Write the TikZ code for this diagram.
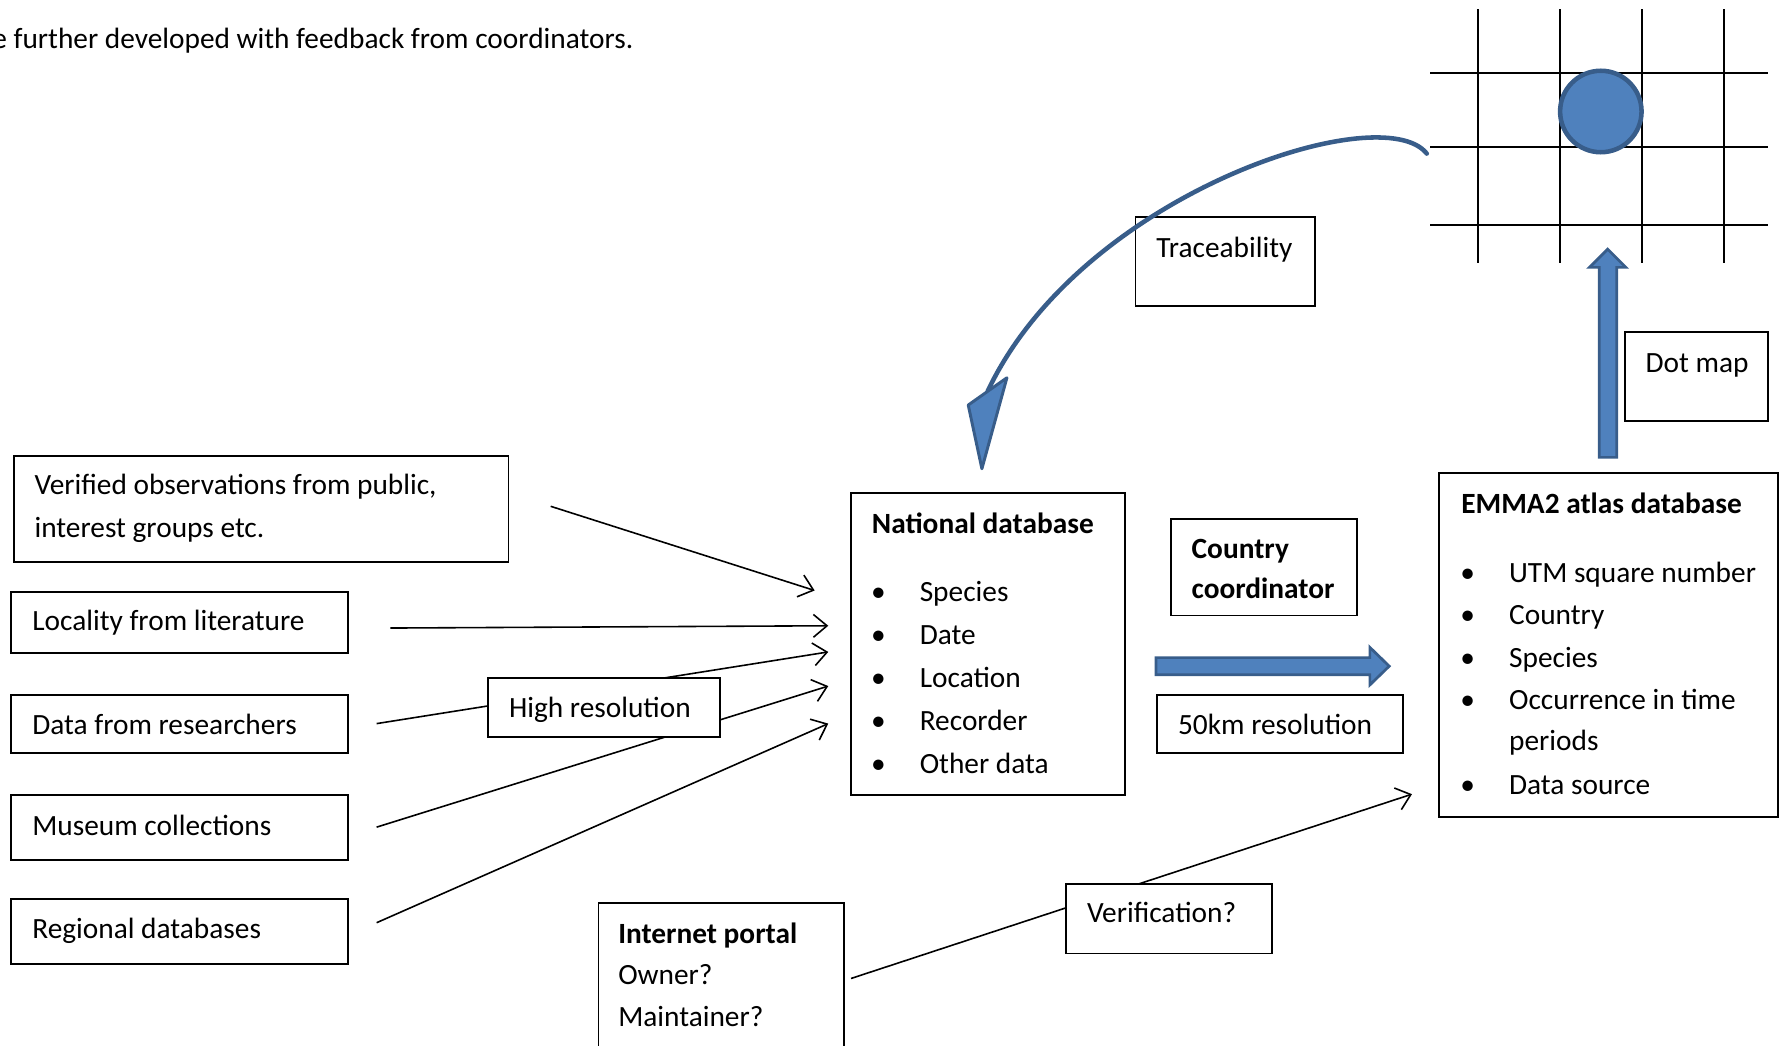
\documentclass[tikz,border=0pt]{standalone}
\usepackage{fontspec}
\setmainfont{Carlito}
\usetikzlibrary{arrows.meta,fit}

\definecolor{dotblue}{RGB}{79,129,189}
\definecolor{dotedge}{RGB}{56,93,138}

\tikzset{
  box/.style={draw, fill=white, line width=0.8pt, inner sep=0pt},
  txt/.style={anchor=base west, inner sep=0pt, font=\fontsize{12.9}{18.75}\selectfont},
  feed/.style={line width=0.7pt, -{Straight Barb[length=6pt,width=10pt,line width=0.7pt]}},
  gridline/.style={line width=0.9pt},
  blockarrow/.style={fill=dotblue, draw=dotedge, line width=1.2pt, line join=miter},
}

\begin{document}
\begin{tikzpicture}[x=0.5pt,y=0.5pt,yscale=-1,xscale=1]
	\useasboundingbox (0,0) rectangle (1568,919);
	\node[txt, anchor=base east] (intro) at (557,43) {e further developed with feedback from coordinators.};
	% grid of the dot map
	\foreach \gx in {1299,1371,1443,1515} \draw[gridline] (\gx,8) -- (\gx,231);
	\foreach \gy in {64,129,198} \draw[gridline] (1257,\gy) -- (1554,\gy);
	\node[circle, fill=dotblue, draw=dotedge, line width=2pt, minimum size=35.8pt, inner sep=0pt] (dot) at (1407,98) {};
	% free ends of the feed lines
	\coordinate (verS) at (484,445);  \coordinate (verE) at (716,519);
	\coordinate (litS) at (343,552);  \coordinate (litE) at (728,550);
	\coordinate (resS) at (331,636);  \coordinate (resE) at (728,573);
	\coordinate (musS) at (331,727);  \coordinate (musE) at (728,603);
	\coordinate (regS) at (331,811);  \coordinate (regE) at (728,636);
	\coordinate (porS) at (748,860);  \coordinate (porE) at (1241,698);
	\draw[feed] (verS) -- (verE);
	\draw[feed] (litS) -- (litE);
	\draw[feed] (resS) -- (resE);
	\draw[feed] (musS) -- (musE);
	\draw[feed] (regS) -- (regE);
	\draw[feed] (porS) -- (porE);
	% boxes
	\node[box, fit={(12,401) (447,494)}] (verified) {};
	\node[box, fit={(10,520) (306,574)}] (literature) {};
	\node[box, fit={(10,611) (306,662)}] (researchers) {};
	\node[box, fit={(10,699) (306,756)}] (museum) {};
	\node[box, fit={(10,790) (306,847)}] (regional) {};
	\node[box, fit={(429,596) (633,648)}] (highres) {};
	\node[box, fit={(748,433) (989,699)}] (national) {};
	\node[box, fit={(1029,456) (1193,541)}] (coordinator) {};
	\node[box, fit={(1017,611) (1233,662)}] (lowres) {};
	\node[box, fit={(1265,416) (1563,718)}] (emma) {};
	\node[box, fit={(1428,292) (1554,370)}] (dotmap) {};
	\node[box, fit={(998,191) (1156,269)}] (trace) {};
	\node[box, fit={(526,794) (742,935)}] (portal) {};
	\node[box, fit={(937,777) (1118,838)}] (verif) {};
	% texts
	\node[txt] (verifiedA) at (30,435) {Verified observations from public,};
	\node[txt] (verifiedB) at (30,472) {interest groups etc.};
	\node[txt] (literatureT) at (28,554) {Locality from literature};
	\node[txt] (researchersT) at (28,646) {Data from researchers};
	\node[txt] (museumT) at (28,734) {Museum collections};
	\node[txt] (regionalT) at (28,825) {Regional databases};
	\node[txt] (highresT) at (447,631) {High resolution};
	\node[txt, font=\fontsize{12.9}{18.75}\selectfont\bfseries] (nationalT) at (766,469) {National database};
	\foreach \entry [count=\i] in {Species,Date,Location,Recorder,Other data}{
		\node[txt, anchor=base] (nationalB\i) at (772,{491.25+37.75*\i}) {\textbullet};
		\node[txt] (nationalI\i) at (808,{491.25+37.75*\i}) {\entry};
	}
	\node[txt, font=\fontsize{12.9}{18.75}\selectfont\bfseries] (coordinatorA) at (1047,491) {Country};
	\node[txt, font=\fontsize{12.9}{18.75}\selectfont\bfseries] (coordinatorB) at (1047,526) {coordinator};
	\node[txt] (lowresT) at (1035,646) {50km resolution};
	\node[txt, font=\fontsize{12.9}{18.75}\selectfont\bfseries] (emmaT) at (1284,451) {EMMA2 atlas database};
	\node[txt, anchor=base] (emmaB1) at (1290,512) {\textbullet};
	\node[txt] (emmaI1) at (1326,512) {UTM square number};
	\node[txt, anchor=base] (emmaB2) at (1290,549) {\textbullet};
	\node[txt] (emmaI2) at (1326,549) {Country};
	\node[txt, anchor=base] (emmaB3) at (1290,587) {\textbullet};
	\node[txt] (emmaI3) at (1326,587) {Species};
	\node[txt, anchor=base] (emmaB4) at (1290,624) {\textbullet};
	\node[txt] (emmaI4) at (1326,624) {Occurrence in time};
	\node[txt] (emmaI4b) at (1326,660) {periods};
	\node[txt, anchor=base] (emmaB5) at (1290,698) {\textbullet};
	\node[txt] (emmaI5) at (1326,698) {Data source};
	\node[txt] (dotmapT) at (1446,327) {Dot map};
	\node[txt] (traceT) at (1016,226) {Traceability};
	\node[txt, font=\fontsize{12.9}{18.75}\selectfont\bfseries] (portalA) at (543,829) {Internet portal};
	\node[txt] (portalB) at (543,865) {Owner?};
	\node[txt] (portalC) at (543,902) {Maintainer?};
	\node[txt] (verifT) at (955,811) {Verification?};
	% block arrows
	\draw[blockarrow] (1016,578) -- (1204,578) -- (1204,569) -- (1221,585.5) -- (1204,602) -- (1204,593) -- (1016,593) -- cycle;
	\draw[blockarrow] (1405.5,402) -- (1405.5,235) -- (1397,235) -- (1413,219) -- (1429,235) -- (1421,235) -- (1421,402) -- cycle;
	% traceability arrow back to the national database
	\draw[dotedge, line width=2pt, line cap=round] (1254,135) .. controls (1215,85) and (950,170) .. (868,344);
	\draw[fill=dotblue, draw=dotedge, line width=1.3pt, line join=round] (851,356) -- (885,332) -- (863,412) -- cycle;
\end{tikzpicture}
\end{document}
